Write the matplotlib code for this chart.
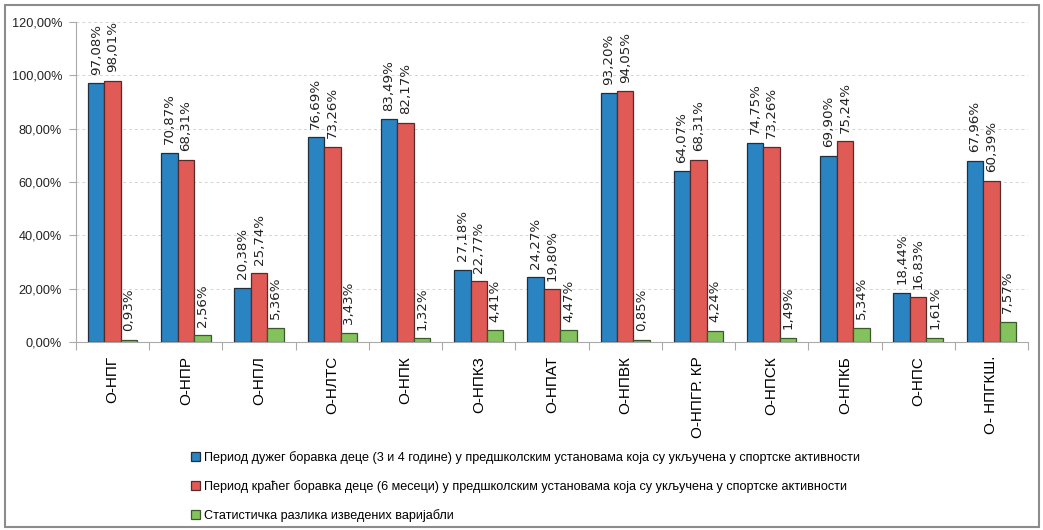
import matplotlib
matplotlib.use("Agg")
import matplotlib.pyplot as plt
import numpy as np
from matplotlib.patches import Rectangle
from matplotlib.ticker import FuncFormatter, MultipleLocator

categories = ["О-НПГ", "О-НПР", "О-НПЛ", "О-НЛТС", "О-НПК", "О-НПКЗ", "О-НПАТ",
              "О-НПВК", "О-НПГР. КР", "О-НПСК", "О-НПКБ", "О-НПС", "О- НПГКШ."]
long_stay = [97.08, 70.87, 20.38, 76.69, 83.49, 27.18, 24.27, 93.20, 64.07, 74.75, 69.90, 18.44, 67.96]
short_stay = [98.01, 68.31, 25.74, 73.26, 82.17, 22.77, 19.80, 94.05, 68.31, 73.26, 75.24, 16.83, 60.39]
difference = [0.93, 2.56, 5.36, 3.43, 1.32, 4.41, 4.47, 0.85, 4.24, 1.49, 5.34, 1.61, 7.57]
series_names = [
    "Период дужег боравка деце (3 и 4 године) у предшколским установама која су укључена у спортске активности",
    "Период краћег боравка деце (6 месеци) у предшколским установама која су укључена у спортске активности",
    "Статистичка разлика изведених варијабли",
]
colors = ["#2A84C2", "#E05A56", "#84C25E"]
edges = ["#1f2f3f", "#5a2a2a", "#3a5a2a"]


def pct(v):
    return f"{v:.2f}".replace(".", ",") + "%"


fig = plt.figure(figsize=(10.43, 5.30), dpi=100)
ax = fig.add_axes([76 / 1043, 1 - 342 / 530, 952 / 1043, 320 / 530])

x = np.arange(len(categories))
w = 0.225
series = [long_stay, short_stay, difference]
for i, (vals, c, ec) in enumerate(zip(series, colors, edges)):
    pos = x + (i - 1) * w + 0.5
    bars = ax.bar(pos, vals, width=w, color=c, edgecolor=ec, linewidth=0.9,
                  label=series_names[i], zorder=3)
    for b, v in zip(bars, vals):
        ax.text(b.get_x() + b.get_width() / 2, v + 3.2, pct(v), rotation=90,
                ha="center", va="bottom", fontsize=9.6, color="#222222",
                family="DejaVu Sans")

ax.set_xlim(0, len(categories))
ax.set_ylim(0, 120)
ax.yaxis.set_major_locator(MultipleLocator(20))
ax.yaxis.set_major_formatter(FuncFormatter(lambda v, p: pct(v)))
ax.grid(axis="y", color="#d4d4d4", linestyle=(0, (3, 3)), linewidth=0.7, zorder=0)

ax.set_xticks(np.arange(len(categories) + 1))
ax.set_xticklabels([])
ax.set_xticks(x + 0.5, minor=True)
ax.set_xticklabels(categories, minor=True, rotation=90, fontsize=11,
                   va="top", ha="center", family="Liberation Sans")
ax.tick_params(axis="x", which="minor", length=0, pad=10)
ax.tick_params(axis="x", which="major", length=6, color="#aaaaaa", direction="out")
ax.tick_params(axis="y", length=5, color="#aaaaaa", labelsize=9.2, pad=5)
for lab in ax.get_yticklabels():
    lab.set_color("#222222")
    lab.set_family("Liberation Sans")

for s in ["top", "right"]:
    ax.spines[s].set_visible(False)
ax.spines["left"].set_color("#aaaaaa")
ax.spines["bottom"].set_color("#aaaaaa")

leg = fig.legend(loc="upper left", bbox_to_anchor=(180 / 1043, 1 - 440 / 530),
                 frameon=False, ncol=1, handlelength=0.7, handleheight=0.7,
                 handletextpad=0.3, labelspacing=1.25,
                 prop={"family": "Liberation Sans", "size": 9.1})

fig.patches.append(Rectangle((5 / 1043, 3 / 530), 1034 / 1043, 522 / 530,
                             transform=fig.transFigure, fill=False,
                             edgecolor="#8c8c8c", linewidth=1.5))

fig.savefig("out.png", dpi=100)
